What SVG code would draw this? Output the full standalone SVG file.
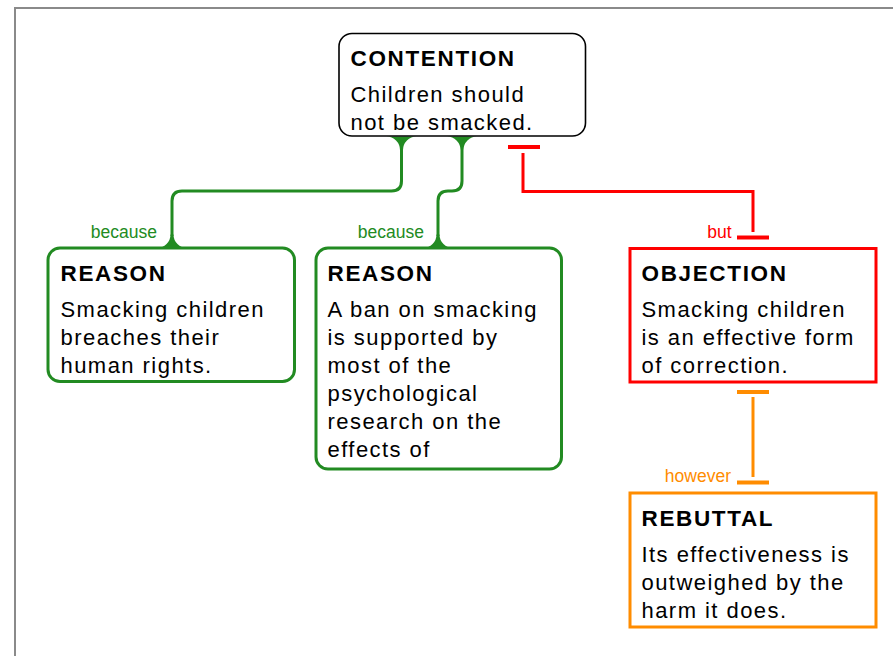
<svg xmlns="http://www.w3.org/2000/svg" width="893" height="656" viewBox="0 0 893 656">
<style>
.frame{fill:#fff;stroke:#8a8a8a;stroke-width:2}
.h{font-family:"Liberation Sans",Arial,sans-serif;font-weight:bold;font-size:22.5px;letter-spacing:1.65px;fill:#000}
.b{font-family:"Liberation Sans",Arial,sans-serif;font-size:22px;letter-spacing:1.45px;fill:#000}
.lbl{font-family:"Liberation Sans",Arial,sans-serif;font-size:17.5px;text-anchor:end}
.green{stroke:#228b22;fill:none;stroke-width:3}
.gfill{fill:#228b22}
.red{stroke:#ff0000;fill:none;stroke-width:3}
.orange{stroke:#ff8c00;fill:none;stroke-width:3}
.bar{stroke-width:4}
</style>
<rect x="0" y="0" width="893" height="656" fill="#fff"/>
<rect class="frame" x="15" y="8" width="900" height="700"/>
<g id="connectors">
  <path class="green" d="M401.5,150 V181 Q401.5,191 391.5,191 H182 Q172,191 172,201 V236"/>
  <path class="gfill" d="M386.5,136.5 A13.5,13.5 0 0 1 400,150 L403,150 A13.5,13.5 0 0 1 416.5,136.5 Z"/>
  <path class="gfill" d="M157,248 A13.5,13.5 0 0 0 170.5,234.5 L173.5,234.5 A13.5,13.5 0 0 0 187,248 Z"/>
  <text class="lbl" x="157" y="238" fill="#228b22">because</text>
  <path class="green" d="M462,150 V181 Q462,191 452,191 H448 Q438,191 438,201 V236"/>
  <path class="gfill" d="M447,136.5 A13.5,13.5 0 0 1 460.5,150 L463.5,150 A13.5,13.5 0 0 1 477,136.5 Z"/>
  <path class="gfill" d="M423,248 A13.5,13.5 0 0 0 436.5,234.5 L439.5,234.5 A13.5,13.5 0 0 0 453,248 Z"/>
  <text class="lbl" x="424" y="238" fill="#228b22">because</text>
  <path class="red bar" d="M508,147 H540"/>
  <path class="red" d="M523,153 V191.5 H753 V232"/>
  <path class="red bar" d="M737,237.5 H769"/>
  <text class="lbl" x="731.5" y="238" fill="#ff0000">but</text>
  <path class="orange bar" d="M737,392 H769"/>
  <path class="orange" d="M753,397 V477"/>
  <path class="orange bar" d="M737,482.5 H769"/>
  <text class="lbl" x="731" y="482" fill="#ff8c00">however</text>
</g>
<g id="contention">
  <rect x="339" y="33.5" width="246.5" height="102.5" rx="13" ry="13" fill="#fff" stroke="#000" stroke-width="1.6"/>
  <text class="h" x="350.5" y="65.7">CONTENTION</text>
  <text class="b" x="350.5" y="101.5">Children should</text>
  <text class="b" x="350.5" y="129.5">not be smacked.</text>
</g>
<g id="reason1">
  <rect x="48" y="248" width="246.5" height="133.5" rx="12" ry="12" fill="#fff" stroke="#228b22" stroke-width="3"/>
  <text class="h" x="60.5" y="280.7">REASON</text>
  <text class="b" x="60.5" y="316.7">Smacking children</text>
  <text class="b" x="60.5" y="344.7">breaches their</text>
  <text class="b" x="60.5" y="372.7">human rights.</text>
</g>
<g id="reason2">
  <rect x="316" y="248" width="245.5" height="221" rx="12" ry="12" fill="#fff" stroke="#228b22" stroke-width="3"/>
  <text class="h" x="327.5" y="280.7">REASON</text>
  <text class="b" x="327.5" y="316.7">A ban on smacking</text>
  <text class="b" x="327.5" y="344.7">is supported by</text>
  <text class="b" x="327.5" y="372.7">most of the</text>
  <text class="b" x="327.5" y="400.7">psychological</text>
  <text class="b" x="327.5" y="428.7">research on the</text>
  <text class="b" x="327.5" y="456.7">effects of</text>
</g>
<g id="objection">
  <rect x="630" y="248.5" width="246" height="133.5" fill="#fff" stroke="#ff0000" stroke-width="3"/>
  <text class="h" x="641.5" y="280.7">OBJECTION</text>
  <text class="b" x="641.5" y="316.7">Smacking children</text>
  <text class="b" x="641.5" y="344.7">is an effective form</text>
  <text class="b" x="641.5" y="372.7">of correction.</text>
</g>
<g id="rebuttal">
  <rect x="630" y="493" width="246" height="134" fill="#fff" stroke="#ff8c00" stroke-width="3"/>
  <text class="h" x="641.5" y="525.7">REBUTTAL</text>
  <text class="b" x="641.5" y="561.7">Its effectiveness is</text>
  <text class="b" x="641.5" y="589.7">outweighed by the</text>
  <text class="b" x="641.5" y="617.7">harm it does.</text>
</g>
</svg>
